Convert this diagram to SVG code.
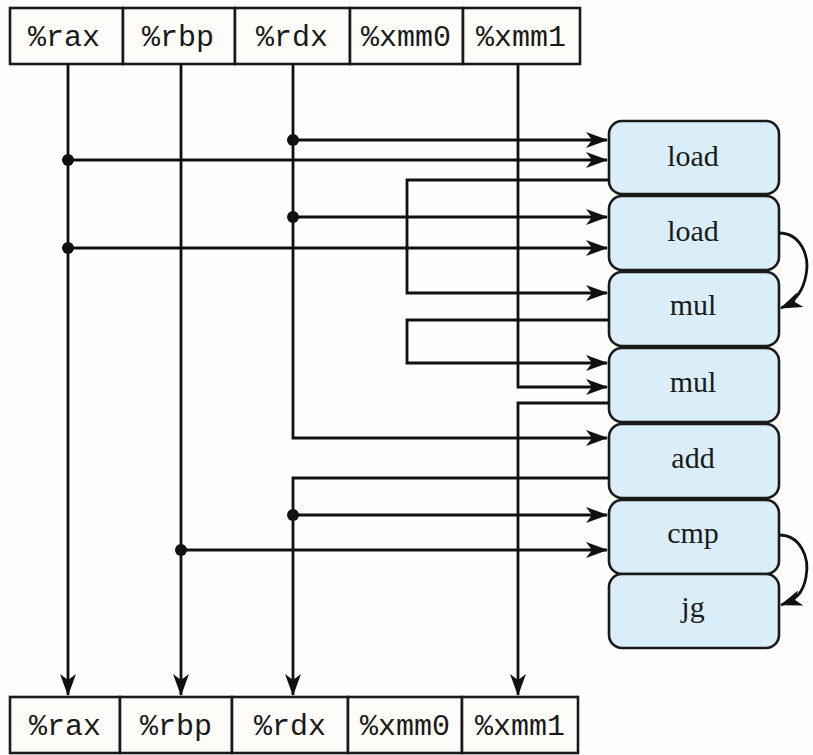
<svg xmlns="http://www.w3.org/2000/svg" width="813" height="755" viewBox="0 0 813 755">
<style>
.reg{fill:#fdfcf8;stroke:#1a1a1a;stroke-width:2.6}
.regt{font-family:"Liberation Mono","DejaVu Sans Mono",monospace;font-size:30px;fill:#1a1a1a;text-anchor:middle}
.op{fill:#d9eef8;stroke:#1a1a1a;stroke-width:2.6}
.opt{font-family:"Liberation Serif","Times New Roman",serif;font-size:30px;fill:#1a1a1a;text-anchor:middle}
.w{fill:none;stroke:#111;stroke-width:2.8}
.a{marker-end:url(#ah)}
.dot{fill:#111}
</style>
<defs>
<marker id="ah" markerWidth="22" markerHeight="16" refX="21" refY="8" orient="auto" markerUnits="userSpaceOnUse">
<path d="M0,0 L22,8 L0,16 L6,8 z" fill="#111"/>
</marker>
</defs>
<rect width="813" height="755" fill="#fefefe"/>

<g id="regs-top">
<rect class="reg" x="10" y="8" width="113" height="56"/>
<rect class="reg" x="123" y="8" width="112" height="56"/>
<rect class="reg" x="235" y="8" width="115" height="56"/>
<rect class="reg" x="350" y="8" width="113" height="56"/>
<rect class="reg" x="463" y="8" width="117" height="56"/>
<text class="regt" x="64" y="46">%rax</text>
<text class="regt" x="178" y="46">%rbp</text>
<text class="regt" x="292" y="46">%rdx</text>
<text class="regt" x="406" y="46">%xmm0</text>
<text class="regt" x="521" y="46">%xmm1</text>
</g>

<g id="regs-bottom">
<rect class="reg" x="10" y="697" width="110" height="56"/>
<rect class="reg" x="120" y="697" width="112" height="56"/>
<rect class="reg" x="232" y="697" width="116" height="56"/>
<rect class="reg" x="348" y="697" width="114" height="56"/>
<rect class="reg" x="462" y="697" width="116" height="56"/>
<text class="regt" x="65" y="735">%rax</text>
<text class="regt" x="176" y="735">%rbp</text>
<text class="regt" x="290" y="735">%rdx</text>
<text class="regt" x="405" y="735">%xmm0</text>
<text class="regt" x="520" y="735">%xmm1</text>
</g>

<g id="op-load1"><rect class="op" x="609" y="121" width="170" height="73" rx="13"/><text class="opt" x="693" y="166">load</text></g>
<g id="op-load2"><rect class="op" x="609" y="196" width="170" height="74" rx="13"/><text class="opt" x="693" y="241">load</text></g>
<g id="op-mul1"><rect class="op" x="609" y="272" width="170" height="74" rx="13"/><text class="opt" x="693" y="315">mul</text></g>
<g id="op-mul2"><rect class="op" x="609" y="348" width="170" height="74" rx="13"/><text class="opt" x="693" y="392">mul</text></g>
<g id="op-add"><rect class="op" x="609" y="424" width="170" height="74" rx="13"/><text class="opt" x="693" y="468">add</text></g>
<g id="op-cmp"><rect class="op" x="609" y="500" width="170" height="74" rx="13"/><text class="opt" x="693" y="543">cmp</text></g>
<g id="op-jg"><rect class="op" x="609" y="574" width="170" height="74" rx="13"/><text class="opt" x="693" y="617">jg</text></g>

<g id="connectors">
<!-- rax -->
<path class="w a" d="M68,64 V695"/>
<path class="w a" d="M68,160 H607"/>
<path class="w a" d="M68,248 H607"/>
<!-- rbp -->
<path class="w a" d="M181,64 V695"/>
<path class="w a" d="M181,550 H607"/>
<!-- rdx top -->
<path class="w a" d="M293,64 V438 H607"/>
<path class="w a" d="M293,140 H607"/>
<path class="w a" d="M293,217 H607"/>
<!-- rdx bottom -->
<path class="w a" d="M609,478 H293 V695"/>
<path class="w a" d="M293,515 H607"/>
<!-- xmm1 -->
<path class="w a" d="M518,64 V387 H607"/>
<path class="w a" d="M609,403 H518 V695"/>
<!-- load1 -> mul1 -->
<path class="w a" d="M609,180 H407 V293 H607"/>
<!-- mul1 -> mul2 -->
<path class="w a" d="M609,320 H407 V363 H607"/>
<!-- curved -->
<path class="w a" d="M779,233 C800,233 810,255 806,275 C803,292 795,302 781,308"/>
<path class="w a" d="M779,535 C800,535 810,557 806,577 C803,594 795,600 781,605"/>
<circle class="dot" cx="68" cy="160" r="6"/>
<circle class="dot" cx="68" cy="248" r="6"/>
<circle class="dot" cx="293" cy="140" r="6"/>
<circle class="dot" cx="293" cy="217" r="6"/>
<circle class="dot" cx="293" cy="515" r="6"/>
<circle class="dot" cx="181" cy="550" r="6"/>
</g>
</svg>
